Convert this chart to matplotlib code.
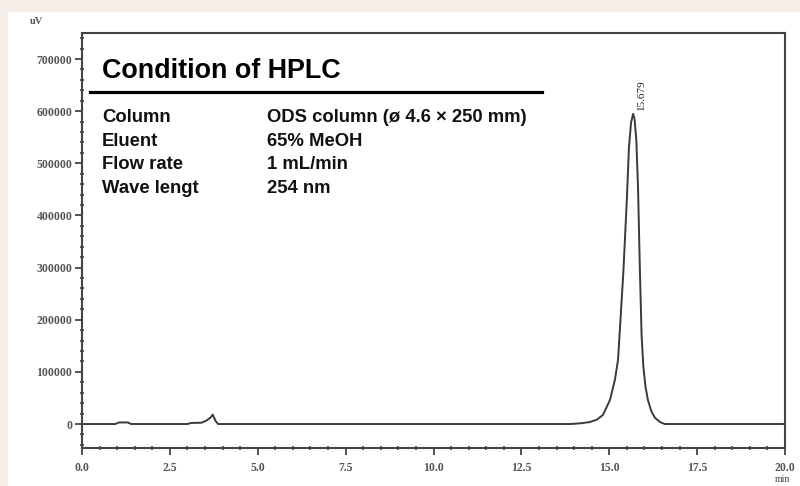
import matplotlib.pyplot as plt
from matplotlib.patches import Rectangle

# chromatogram (time in min, signal in uV)
time_min = [0.0, 0.95, 1.05, 1.3, 1.4, 3.0, 3.1, 3.4, 3.55, 3.65, 3.72, 3.8, 3.87,
            13.9, 14.2, 14.45, 14.65, 14.82, 15.02, 15.16, 15.25, 15.4, 15.5, 15.56,
            15.62, 15.679, 15.72, 15.77, 15.82, 15.87, 15.92, 15.97, 16.03, 16.1,
            16.2, 16.3, 16.45, 16.58, 20.0]
signal_uv = [0, 0, 3000, 3000, 0, 0, 2000, 2500, 7000, 12000, 18000, 6000, 0,
             0, 1500, 3800, 8500, 17300, 46000, 84500, 123000, 290000, 430000, 530000,
             578000, 595000, 585000, 545000, 450000, 300000, 170000, 110000, 72000, 46000,
             24000, 12000, 3500, 0, 0]

peak_time = 15.679
peak_label = "15.679"

x_ticks = [0.0, 2.5, 5.0, 7.5, 10.0, 12.5, 15.0, 17.5, 20.0]
y_ticks = [0, 100000, 200000, 300000, 400000, 500000, 600000, 700000]

title = "Condition of HPLC"
cond_names = ["Column", "Eluent", "Flow rate", "Wave lengt"]
cond_values = ["ODS column (ø 4.6 × 250 mm)", "65% MeOH", "1 mL/min", "254 nm"]

W, H = 800, 486
fig = plt.figure(figsize=(W / 100, H / 100), dpi=100)
fig.patch.set_facecolor("#f5eee8")
fig.patches.append(Rectangle((8 / W, 0), 792 / W, 474 / H, transform=fig.transFigure,
                             facecolor="white", edgecolor="none", zorder=-5))


def fx(px):
    return px / W


def fy(py):
    return 1 - py / H


ax = fig.add_axes([fx(82), fy(448), fx(785) - fx(82), fy(33) - fy(448)])
ax.set_zorder(1)
ax.set_facecolor("white")
line_col = "#3a3a3a"
ax.plot(time_min, signal_uv, color=line_col, lw=1.4)

ax.set_xlim(0, 20)
ax.set_ylim(-46000, 750000)
ax.set_xticks(x_ticks)
ax.set_xticklabels([f"{v:.1f}" for v in x_ticks])
ax.set_xticks([i * 0.5 for i in range(41)], minor=True)
ax.set_yticks(y_ticks)
ax.set_yticklabels([str(v) for v in y_ticks])
ax.set_yticks([i * 20000 for i in range(-2, 38)], minor=True)

for s in ax.spines.values():
    s.set_color("#444444")
    s.set_linewidth(1.5)

ax.tick_params(axis="both", which="major", direction="out", length=5, width=1.3,
               color="#444444", labelcolor="#555555")
ax.tick_params(axis="y", which="major", pad=2)
ax.tick_params(axis="x", which="major", pad=5)
ax.tick_params(axis="both", which="minor", direction="inout", length=3, width=1.3,
               color="#555555")
for lab in ax.get_xticklabels() + ax.get_yticklabels():
    lab.set_fontfamily("Liberation Serif")
    lab.set_fontsize(8.5)
    lab.set_fontweight("bold")

ax.annotate(peak_label, xy=(peak_time, max(signal_uv)), xytext=(6, 3),
            textcoords="offset points", rotation=90, ha="center", va="bottom",
            fontsize=8, family="Liberation Serif", color="#222222")

fig.text(fx(30), fy(21), "uV", fontsize=7.5, family="Liberation Serif",
         fontweight="bold", color="#555555", ha="left", va="center")
fig.text(fx(782), fy(484), "min", fontsize=7, family="Liberation Serif",
         color="#444444", ha="center", va="bottom")

# condition block
fig.text(fx(102), fy(78), title, fontsize=19.4, fontweight="bold",
         family="Liberation Sans", color="black", ha="left", va="baseline", zorder=3)
fig.add_artist(plt.Line2D([fx(90), fx(542)], [fy(92), fy(92)], color="black",
                          lw=2.3, transform=fig.transFigure, zorder=3))
row_y = [122, 146, 169, 193]
for name, val, yy in zip(cond_names, cond_values, row_y):
    fig.text(fx(102), fy(yy), name, fontsize=13.3, fontweight="bold",
             family="Liberation Sans", color="#111111", ha="left", va="baseline", zorder=3)
    fig.text(fx(267), fy(yy), val, fontsize=13.3, fontweight="bold",
             family="Liberation Sans", color="#111111", ha="left", va="baseline", zorder=3)

fig.savefig("out.png", dpi=100, facecolor=fig.get_facecolor())
